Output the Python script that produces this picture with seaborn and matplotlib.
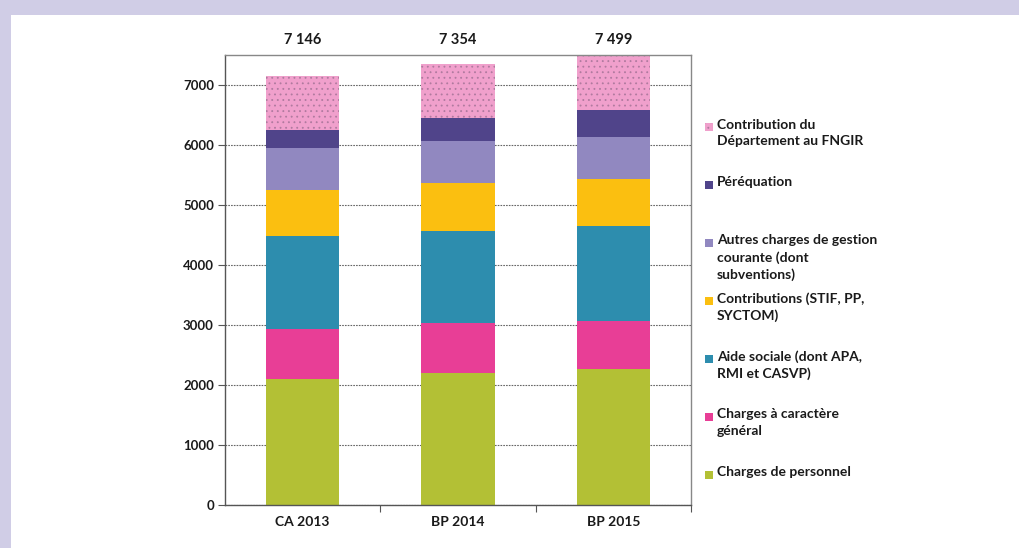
import matplotlib
matplotlib.use("Agg")
import matplotlib.pyplot as plt
from matplotlib.patches import Rectangle
import matplotlib.transforms as mtransforms
import seaborn as sns
import numpy as np
import pandas as pd

categories = ["CA 2013", "BP 2014", "BP 2015"]
personnel = [2105, 2200, 2261]
caractere_general = [823, 838, 800]
aide_sociale = [1550, 1529, 1589]
contributions = [779, 800, 783]
autres_charges = [688, 706, 707]
perequation = [300, 384, 450]
fngir = [901, 897, 909]

series_labels = [
    "Charges de personnel",
    "Charges à caractère\ngénéral",
    "Aide sociale (dont APA,\nRMI et CASVP)",
    "Contributions (STIF, PP,\nSYCTOM)",
    "Autres charges de gestion\ncourante (dont\nsubventions)",
    "Péréquation",
    "Contribution du\nDépartement au FNGIR",
]
series_values = [personnel, caractere_general, aide_sociale, contributions,
                 autres_charges, perequation, fngir]
colors = ["#b3c035", "#e83e96", "#2d8dae", "#fbbf10", "#9188c0", "#50448a", "#f0a0cc"]

sns.set_theme(style="white")
plt.rcParams["font.family"] = ["Lato", "DejaVu Sans"]
plt.rcParams["hatch.linewidth"] = 0.6

W, H = 1019, 548
fig = plt.figure(figsize=(W / 100, H / 100), dpi=100)
fig.patch.set_facecolor("#d0cde6")
fig.patches.append(Rectangle((11 / W, 0), 1 - 11 / W, (H - 15) / H,
                             transform=fig.transFigure, facecolor="white",
                             edgecolor="none", zorder=-10))

ax = fig.add_axes([225 / W, 1 - 505 / H, (691 - 225) / W, (505 - 55) / H])
ax.set_zorder(2)
ax.set_facecolor("none")

df = pd.DataFrame({"cat": categories})
cum = np.cumsum(np.array(series_values), axis=0)
for i in range(len(series_values) - 1, -1, -1):
    df["v"] = cum[i]
    kw = dict(x="cat", y="v", data=df, color=colors[i], saturation=1,
              width=0.47, ax=ax, linewidth=0, zorder=2)
    if i == len(series_values) - 1:
        kw.update(hatch="...", edgecolor="#b07a9f")
    sns.barplot(**kw)

ax.set_ylim(0, 7500)
ax.set_xlim(-0.5, 2.5)
ax.set_yticks(np.arange(0, 7001, 1000))
ax.yaxis.grid(True, linestyle=(0, (1.5, 1)), color="#666666", linewidth=0.8, zorder=1)
ax.set_axisbelow(True)
ax.set_xlabel("")
ax.set_ylabel("")
for s in ax.spines.values():
    s.set_visible(True)
    s.set_color("#888888")
    s.set_linewidth(1.0)
ax.spines["left"].set_color("#555555")
ax.spines["bottom"].set_color("#555555")

ax.tick_params(axis="y", which="major", left=True, length=5, width=0.8,
               color="#555555", labelsize=9.5, pad=3)
ax.tick_params(axis="x", which="major", bottom=False, length=0, labelsize=10, pad=8)
ax.set_xticks([0.5, 1.5, 2.5], minor=True)
ax.tick_params(axis="x", which="minor", bottom=True, length=5, width=0.8, color="#555555")
for lab in ax.get_yticklabels() + ax.get_xticklabels():
    lab.set_fontweight("bold")
    lab.set_color("#1a1a1a")

totals = cum[-1]
trans = mtransforms.blended_transform_factory(ax.transData, ax.transAxes)
for i, t in enumerate(totals):
    s = f"{int(t):,}".replace(",", " ")
    ax.text(i, 1.033, s, transform=trans, ha="center", va="center",
            fontsize=10.5, fontweight="bold", color="#1a1a1a")

# legend (manual, Excel-style evenly spaced entries)
order = list(range(len(series_labels) - 1, -1, -1))
y0 = 127
step = 58
for k, i in enumerate(order):
    yc = y0 + step * k
    rect = Rectangle((705 / W, 1 - (yc + 4) / H), 8 / W, 8 / H,
                     transform=fig.transFigure, facecolor=colors[i],
                     edgecolor="#b07a9f" if i == 6 else "none",
                     linewidth=0, hatch="..." if i == 6 else None)
    fig.patches.append(rect)
    fig.text(717 / W, 1 - (yc - 8.5) / H, series_labels[i], ha="left", va="top",
             fontsize=10, fontweight="bold", color="#1a1a1a", linespacing=1.42)

fig.savefig("out.png", dpi=100, facecolor=fig.get_facecolor())
